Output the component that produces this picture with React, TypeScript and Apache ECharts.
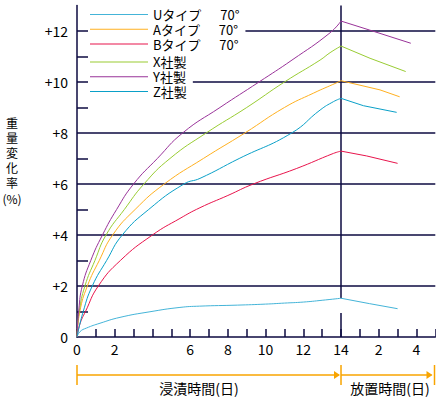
import React, { useEffect, useRef } from 'react';
import * as echarts from 'echarts';

const FONT = '"Noto Sans CJK JP", "Noto Sans", sans-serif';
const NAVY = '#0c0a40';
const ORANGE = '#f8a400';

const SERIES_NAMES = ['Uタイプ', 'Aタイプ', 'Bタイプ', 'X社製', 'Y社製', 'Z社製'];
const TEMP_LABEL = '70°';
const COLORS = ['#44b4d8', '#ffb020', '#e8144c', '#99cc33', '#993399', '#0aa0c8'];

// [day, weight change %] during immersion (0-14 days)
const U_RISE = [[0, 0], [0.16, 0.21], [0.5, 0.35], [1.22, 0.54], [2.28, 0.77], [3.87, 0.99], [5.46, 1.16], [6.5, 1.21], [8.5, 1.25], [10, 1.29], [11, 1.33], [12, 1.37], [13, 1.44], [14, 1.52]];
const A_RISE = [[0, 0], [0.15, 1], [0.55, 2], [1.18, 3], [1.89, 4], [3.08, 5], [4.63, 6], [6.7, 7], [8.9, 8], [11.0, 9.0], [12.53, 9.56], [13.77, 9.97], [14, 10.05]];
const B_RISE = [[0, 0], [0.15, 0.5], [0.45, 1], [1.13, 2], [2.3, 3], [4.0, 4], [5.46, 4.65], [6.52, 5.07], [8.0, 5.55], [9.35, 6], [11.65, 6.61], [13.6, 7.2], [14, 7.29]];
const X_RISE = [[0, 0], [0.12, 1], [0.42, 2], [0.95, 3], [1.54, 4], [2.51, 5], [3.55, 6], [4.93, 7], [6.85, 8], [9.0, 9], [11.0, 10], [12.89, 10.86], [13.42, 11.15], [14, 11.41]];
const Y_RISE = [[0, 0], [0.1, 1.1], [0.28, 2], [0.73, 3], [1.35, 4], [2.1, 5], [3.0, 6], [4.26, 7], [5.6, 8], [7.58, 9], [9.65, 10], [11.4, 10.86], [13.42, 11.93], [14, 12.39]];
const Z_RISE = [[0, 0], [0.33, 1], [0.81, 2], [1.57, 3], [2.4, 4], [3.8, 5], [5.67, 6], [6.52, 6.22], [8.6, 7], [11.38, 8], [12.89, 8.9], [13.6, 9.23], [14, 9.36]];

// [day, weight change %] after removal (standing time, 14 + n days)
const U_FALL = [[14, 1.52], [15.5, 1.31], [17.0, 1.11]];
const A_FALL = [[14, 10.05], [16.07, 9.69], [17.11, 9.42]];
const B_FALL = [[14, 7.29], [15.36, 7.1], [17.0, 6.81]];
const X_FALL = [[14, 11.41], [15.54, 10.93], [17.43, 10.41]];
const Y_FALL = [[14, 12.39], [15.5, 12.04], [17.7, 11.52]];
const Z_FALL = [[14, 9.36], [15.19, 9.07], [16.95, 8.81]];

const RISES = [U_RISE, A_RISE, B_RISE, X_RISE, Y_RISE, Z_RISE];
const FALLS = [U_FALL, A_FALL, B_FALL, X_FALL, Y_FALL, Z_FALL];

const Y_GRID = [2, 4, 6, 8, 10, 12];
const Y_LABELS = [0, 2, 4, 6, 8, 10, 12];
const Y_MINOR_TICKS = [1, 3, 5, 7, 9, 11];
const X_LABEL_DAYS = [0, 2, 6, 8, 10, 12, 14, 16, 18];
const IMMERSION_END = 14;
const X_MAX = 19;
const Y_MAX = 13;

export default function App() {
  const ref = useRef<HTMLDivElement>(null);
  useEffect(() => {
    if (!ref.current) return;
    const chart = echarts.init(ref.current, null, { renderer: 'svg' });
    const series: any[] = [];
    SERIES_NAMES.forEach((name, i) => {
      const color = COLORS[i];
      const base = {
        type: 'line', name, symbol: 'none', showSymbol: false, silent: true,
        lineStyle: { color, width: 1 }, itemStyle: { color }, z: 3,
      };
      series.push({ ...base, data: RISES[i], smooth: 0.5 });
      series.push({ ...base, data: FALLS[i], smooth: false });
    });
    series[0].markLine = {
      silent: true, z: 1, symbol: ['none', 'none'], label: { show: false },
      lineStyle: { color: NAVY, width: 1.5, type: 'solid' },
      emphasis: { disabled: true },
      data: [
        ...Y_GRID.map((v) => ({ yAxis: v })),
        [{ coord: [IMMERSION_END, 0] }, { coord: [IMMERSION_END, 0.94] }],
        [{ coord: [IMMERSION_END, U_FALL[0][1]] }, { coord: [IMMERSION_END, Y_MAX] }],
      ],
    };
    const legendCommon = {
      orient: 'vertical', left: 88, itemWidth: 58, itemHeight: 14, itemGap: 1.8,
      icon: 'path://M0,0L58,0L58,1L0,1Z', backgroundColor: '#fff',
      selectedMode: false, padding: [1, 6, 1, 2],
      textStyle: { fontFamily: FONT, fontSize: 13, lineHeight: 13, color: '#000' },
    };
    chart.setOption({
      animation: false,
      grid: { left: 77, top: 5.5, width: 358.3, height: 331.5, outerBoundsMode: 'none' },
      xAxis: {
        type: 'value', min: 0, max: X_MAX, interval: 1,
        axisLine: { onZero: false, lineStyle: { color: NAVY, width: 1.5 } },
        axisTick: { inside: true, length: 8, lineStyle: { color: NAVY, width: 1.5 } },
        splitLine: { show: false },
        axisLabel: {
          margin: 5, fontSize: 14, fontFamily: FONT, color: '#000',
          formatter: (v: number) => (X_LABEL_DAYS.includes(v) ? String(v > IMMERSION_END ? v - IMMERSION_END : v) : ''),
        },
      },
      yAxis: {
        type: 'value', min: 0, max: Y_MAX, interval: 1,
        axisLine: { show: true, onZero: false, lineStyle: { color: NAVY, width: 1.5 } },
        axisTick: { show: true, inside: true, length: 11, customValues: Y_MINOR_TICKS, lineStyle: { color: NAVY, width: 1.5 } },
        splitLine: { show: false },
        axisLabel: {
          margin: 9, fontSize: 14, fontFamily: FONT, color: '#000', customValues: Y_LABELS,
          formatter: (v: number) => (v === 0 ? '0' : '+' + v),
        },
      },
      legend: [
        { ...legendCommon, top: 7, data: SERIES_NAMES.slice(0, 3), formatter: (n: string) => n + '\u3000  ' + TEMP_LABEL },
        { ...legendCommon, top: 54.4, data: SERIES_NAMES.slice(3) },
      ],
      series,
    });
    const px = (d: number) => chart.convertToPixel({ xAxisIndex: 0 }, d) as number;
    const x0 = px(0), x14 = px(IMMERSION_END), xEnd = px(X_MAX) - 0.8;
    const ay = 375;
    const arrow = (xs: number, xe: number) => [
      { type: 'line', shape: { x1: xs, y1: ay, x2: xe - 2, y2: ay }, style: { stroke: ORANGE, lineWidth: 1.5 } },
      { type: 'polygon', shape: { points: [[xe - 1, ay], [xe - 7, ay - 4], [xe - 7, ay + 4]] }, style: { fill: ORANGE } },
    ];
    const bar = (x: number) => ({ type: 'line', shape: { x1: x, y1: 365, x2: x, y2: 385 }, style: { stroke: ORANGE, lineWidth: 1.5 } });
    const nameChars = ['重', '量', '変', '化', '率', '(%)'];
    chart.setOption({
      graphic: [
        ...nameChars.map((c, i) => ({
          type: 'text', x: 12, y: 122 + i * 15.2,
          style: { text: c, align: 'center', verticalAlign: 'middle', fontSize: 12, lineHeight: 12, fontFamily: FONT, fill: '#000' },
        })),
        bar(x0), bar(x14), bar(xEnd),
        ...arrow(x0, x14), ...arrow(x14, xEnd - 1),
        { type: 'text', x: 199, y: 388, style: { text: '浸漬時間(日)', align: 'center', verticalAlign: 'middle', fontSize: 14, lineHeight: 14, fontFamily: FONT, fill: '#000' } },
        { type: 'text', x: 390, y: 388, style: { text: '放置時間(日)', align: 'center', verticalAlign: 'middle', fontSize: 14, lineHeight: 14, fontFamily: FONT, fill: '#000' } },
      ],
    });
    return () => chart.dispose();
  }, []);
  return <div ref={ref} style={{ position: 'absolute', left: 0, top: 0, width: 436, height: 397 }} />;
}
